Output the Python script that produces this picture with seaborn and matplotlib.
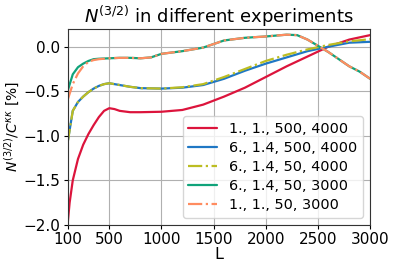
import numpy as np
import pandas as pd
import matplotlib
matplotlib.use('Agg')
import matplotlib.pyplot as plt
import seaborn as sns

# values
L_red = [100, 120, 150, 200, 250, 300, 350, 400, 450, 500, 550, 600, 700, 800, 1000, 1200,
         1400, 1600, 1800, 2000, 2200, 2400, 2600, 2800, 3000]
red = [-2.0, -1.75, -1.5, -1.26, -1.1, -0.98, -0.88, -0.79, -0.72, -0.69, -0.70, -0.72, -0.735,
       -0.735, -0.73, -0.71, -0.65, -0.56, -0.46, -0.34, -0.22, -0.11, 0.0, 0.08, 0.13]

L_mid = [100, 150, 200, 250, 300, 350, 400, 450, 500, 600, 700, 800, 1000, 1200, 1400,
         1600, 1800, 2000, 2200, 2400, 2600, 2800, 3000]
blue = [-1.08, -0.72, -0.62, -0.56, -0.51, -0.47, -0.44, -0.42, -0.41, -0.43, -0.45, -0.465,
        -0.47, -0.46, -0.43, -0.36, -0.27, -0.19, -0.12, -0.05, 0.0, 0.045, 0.055]
yellow = [-1.08, -0.72, -0.62, -0.56, -0.51, -0.47, -0.44, -0.42, -0.41, -0.43, -0.45, -0.465,
          -0.47, -0.455, -0.42, -0.34, -0.25, -0.16, -0.09, -0.03, 0.02, 0.06, 0.085]

L_top = [100, 150, 200, 250, 300, 350, 400, 500, 600, 700, 800, 900, 1000, 1200, 1400, 1600,
         1800, 2000, 2200, 2300, 2400, 2500, 2600, 2700, 2800, 2900, 3000]
green = [-0.5, -0.31, -0.23, -0.19, -0.16, -0.14, -0.135, -0.13, -0.125, -0.125, -0.13, -0.12,
         -0.08, -0.05, -0.01, 0.07, 0.10, 0.115, 0.135, 0.13, 0.08, 0.01, -0.06, -0.14, -0.22,
         -0.28, -0.36]
orange = [-0.6, -0.42, -0.3, -0.22, -0.17, -0.15, -0.14, -0.13, -0.125, -0.125, -0.13, -0.12,
          -0.08, -0.05, -0.01, 0.07, 0.10, 0.115, 0.135, 0.13, 0.08, 0.01, -0.06, -0.14, -0.22,
          -0.28, -0.36]

labels = ['1., 1., 500, 4000', '6., 1.4, 500, 4000', '6., 1.4, 50, 4000',
          '6., 1.4, 50, 3000', '1., 1., 50, 3000']

sns.set_style('ticks', {'text.color': 'black', 'axes.labelcolor': 'black',
                        'xtick.color': 'black', 'ytick.color': 'black',
                        'axes.edgecolor': '#333333'})
plt.rcParams['font.family'] = ['DejaVu Sans']

fig = plt.figure(figsize=(3.95, 2.7), dpi=100)
ax = fig.add_axes([0.171, 0.167, 0.766, 0.726])

series = [(L_red, red, '#dc143c', '-'),
          (L_mid, blue, '#1f77c4', '-'),
          (L_mid, yellow, '#bcbd22', '-.'),
          (L_top, green, '#10a37a', '-'),
          (L_top, orange, '#ff8c60', '-.')]
for (xs, ys, c, ls), lab in zip(series, labels):
    df = pd.DataFrame({'L': xs, 'v': ys})
    sns.lineplot(data=df, x='L', y='v', color=c, linestyle=ls, linewidth=1.6, label=lab, ax=ax)

ax.set_xlim(100, 3000)
ax.set_ylim(-2.0, 0.2)
ax.set_xticks([100, 500, 1000, 1500, 2000, 2500, 3000])
ax.set_yticks([0.0, -0.5, -1.0, -1.5, -2.0])
ax.grid(True, color='#b0b0b0', linewidth=0.8)
ax.tick_params(labelsize=11, length=3, pad=2)
ax.set_xlabel('L', fontsize=11.5, labelpad=0)
ax.set_ylabel(r'$N^{(3/2)}/C^{\kappa\kappa}$ [%]', fontsize=10, labelpad=1)
ax.set_title(r'$N^{(3/2)}$ in different experiments', fontsize=13, pad=4)
ax.legend(loc='lower right', fontsize=10.4, handlelength=2.0, borderaxespad=0.5,
          labelspacing=0.35)

fig.savefig('out.png', dpi=100)
